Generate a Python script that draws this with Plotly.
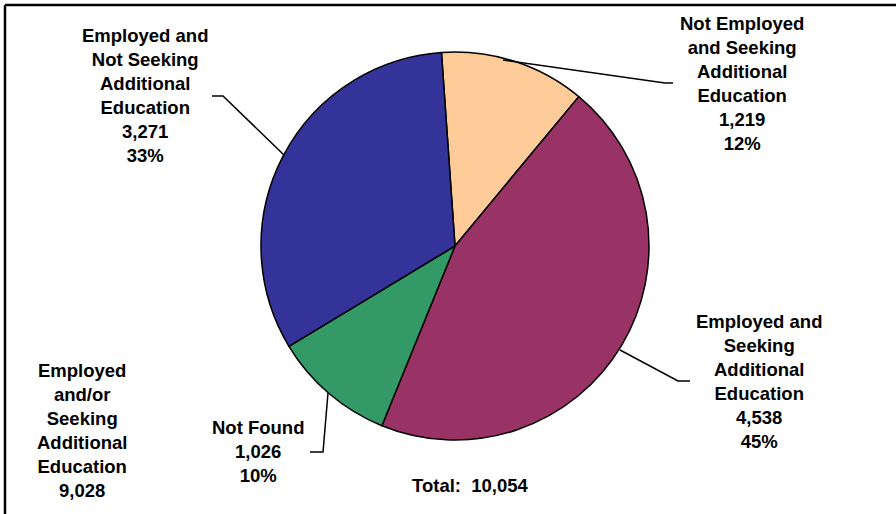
import plotly.graph_objects as go

# slice data, clockwise from the top
labels = ["Not Employed and Seeking Additional Education",
          "Employed and Seeking Additional Education",
          "Not Found",
          "Employed and Not Seeking Additional Education"]
counts = [1219, 4538, 1026, 3271]
colors = ["#FFCC99", "#993366", "#339966", "#333399"]

label_text = ["Not Employed<br>and Seeking<br>Additional<br>Education<br>1,219<br>12%",
              "Employed and<br>Seeking<br>Additional<br>Education<br>4,538<br>45%",
              "Not Found<br>1,026<br>10%",
              "Employed and<br>Not Seeking<br>Additional<br>Education<br>3,271<br>33%"]
group_text = "Employed<br>and/or<br>Seeking<br>Additional<br>Education<br>9,028"
total_text = "Total:  10,054"

W, H = 896, 514


def px(x):
    return x / W


def py(y):
    return 1 - y / H


# pie sits in pixel box centre (455,246), radius ~194
cx, cy, r = 455, 246, 194

fig = go.Figure()
fig.add_trace(go.Pie(
    labels=labels, values=counts, sort=False, direction="clockwise",
    rotation=-4, textinfo="none", hoverinfo="label+value+percent",
    marker=dict(colors=colors, line=dict(color="black", width=1.5)),
    domain=dict(x=[px(cx - r), px(cx + r)], y=[py(cy + r), py(cy - r)]),
    showlegend=False,
))

font = dict(family="Liberation Sans, Arial, sans-serif", size=18.5, color="black")

# label positions (pixel centres) and leader lines
label_pos = [(742, 84), (759, 381), (258, 451), (145, 95)]
leaders = [
    [(503, 60), (665, 83), (673, 83)],
    [(620, 350), (678, 381), (690, 381)],
    [(328, 393), (323, 452), (310, 452)],
    [(284, 155), (223, 96), (212, 96)],
]

annotations = []
for txt, (x, y) in zip(label_text, label_pos):
    annotations.append(dict(x=px(x), y=py(y), xref="paper", yref="paper",
                            text="<b>" + txt + "</b>", showarrow=False,
                            xanchor="center", yanchor="middle", align="center", font=font))
annotations.append(dict(x=px(82), y=py(430), xref="paper", yref="paper",
                        text="<b>" + group_text + "</b>", showarrow=False,
                        xanchor="center", yanchor="middle", align="center", font=font))
annotations.append(dict(x=px(470), y=py(485), xref="paper", yref="paper",
                        text="<b>" + total_text + "</b>", showarrow=False,
                        xanchor="center", yanchor="middle", font=font))

shapes = []
for pts in leaders:
    path = "M " + " L ".join(f"{px(x)},{py(y)}" for x, y in pts)
    shapes.append(dict(type="path", path=path, xref="paper", yref="paper",
                       line=dict(color="black", width=1.5)))

# chart frame (only top and left edges show)
shapes.append(dict(type="line", xref="paper", yref="paper",
                   x0=px(5), y0=py(5), x1=1.01, y1=py(5), line=dict(color="black", width=2.5)))
shapes.append(dict(type="line", xref="paper", yref="paper",
                   x0=px(5), y0=py(5), x1=px(5), y1=-0.01, line=dict(color="black", width=2.5)))

fig.update_layout(
    width=W, height=H,
    margin=dict(l=0, r=0, t=0, b=0),
    paper_bgcolor="white", plot_bgcolor="white",
    annotations=annotations, shapes=shapes,
)

fig.write_html("out.html", config={"displayModeBar": False},
               post_script="document.body.style.margin='0';")
